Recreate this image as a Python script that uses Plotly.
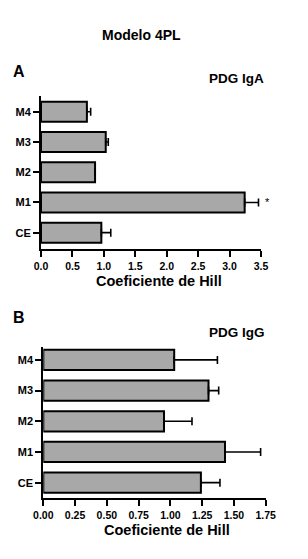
import plotly.graph_objects as go

W, H = 308, 559

categories = ["CE", "M1", "M2", "M3", "M4"]
iga_values = [0.96, 3.24, 0.86, 1.03, 0.73]
iga_errors = [0.15, 0.22, 0.0, 0.04, 0.06]
igg_values = [1.24, 1.43, 0.95, 1.30, 1.03]
igg_errors = [0.15, 0.28, 0.22, 0.08, 0.34]
iga_ticks = [0.0, 0.5, 1.0, 1.5, 2.0, 2.5, 3.0, 3.5]
igg_ticks = [0.0, 0.25, 0.5, 0.75, 1.0, 1.25, 1.5, 1.75]

FONT = "Arial, Liberation Sans, sans-serif"
BAR_FILL = "#a8a8a8"


def px(x):
    return x / W


def py(y):
    return 1 - y / H


def bar(values, errors, xa, ya):
    return go.Bar(
        x=values, y=categories, orientation="h",
        xaxis=xa, yaxis=ya, width=0.66,
        marker=dict(color=BAR_FILL, line=dict(color="black", width=2)),
        error_x=dict(type="data", array=errors, arrayminus=[0] * len(errors),
                     symmetric=False, color="black", thickness=1.6, width=4),
        showlegend=False, hoverinfo="skip",
    )


fig = go.Figure()
fig.add_trace(bar(iga_values, iga_errors, "x", "y"))
fig.add_trace(bar(igg_values, igg_errors, "x2", "y2"))

axis_common = dict(showline=True, linecolor="black", linewidth=2, ticks="outside",
                   ticklen=6, tickwidth=2, tickcolor="black", showgrid=False,
                   zeroline=False, automargin=False)

fig.update_layout(
    width=W, height=H, margin=dict(l=0, r=0, t=0, b=0),
    paper_bgcolor="white", plot_bgcolor="white",
    bargap=0.34,
    xaxis=dict(domain=[px(41), px(261)], range=[0, 3.5], anchor="y",
               tickvals=iga_ticks, ticktext=[f"{v:.1f}" for v in iga_ticks],
               tickfont=dict(family=FONT, size=10.5, color="black", weight="bold"),
               **axis_common),
    yaxis=dict(domain=[py(249), py(96)], range=[-0.54, 4.52], anchor="x",
               type="category", categoryorder="array", categoryarray=categories,
               tickfont=dict(family=FONT, size=11, color="black", weight="bold"),
               **axis_common),
    xaxis2=dict(domain=[px(43.3), px(265.7)], range=[0, 1.75], anchor="y2",
                tickvals=igg_ticks, ticktext=[f"{v:.2f}" for v in igg_ticks],
                tickfont=dict(family=FONT, size=10.5, color="black", weight="bold"),
                **axis_common),
    yaxis2=dict(domain=[py(498.3), py(346.7)], range=[-0.51, 4.43], anchor="x2",
                type="category", categoryorder="array", categoryarray=categories,
                tickfont=dict(family=FONT, size=11, color="black", weight="bold"),
                **axis_common),
)


def label(text, x, y, size, xanchor="center"):
    fig.add_annotation(text=text, x=px(x), y=py(y), xref="paper", yref="paper",
                       xanchor=xanchor, yanchor="middle", showarrow=False,
                       font=dict(family=FONT, size=size, color="black", weight="bold"))


label("Modelo 4PL", 141, 35, 14)
label("A", 11, 72, 16, "left")
label("PDG IgA", 237, 78, 13.5)
label("Coeficiente de Hill", 159, 281, 14.5)
label("B", 11, 317, 16, "left")
label("PDG IgG", 237, 332, 13.5)
label("Coeficiente de Hill", 167, 530, 14.5)

fig.add_annotation(text="*", x=iga_values[1] + iga_errors[1], y="M1", xref="x", yref="y",
                   xanchor="left", yanchor="middle", xshift=5, showarrow=False,
                   font=dict(family=FONT, size=11, color="black"))

fig.write_html("out.html")
